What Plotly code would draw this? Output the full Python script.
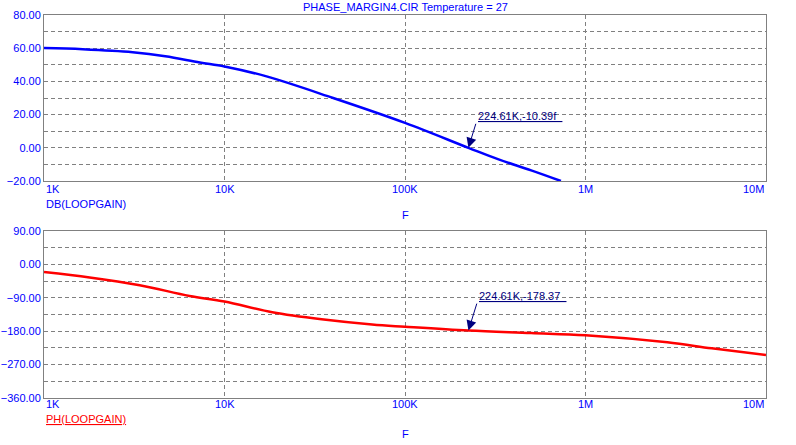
import math
import plotly.graph_objects as go

# loop gain
freq_db = [1e3, 1.64e3, 3.1e3, 4.7e3, 7.3e3, 1e4, 1.71e4, 4e4, 1e5, 2.2461e5, 3.3e5, 5e5, 7.31e5]
db_loopgain = [60.1, 59.4, 57.6, 55.2, 51.4, 49.0, 43.0, 30.0, 15.0, 0.0, -7.0, -13.6, -20.0]

freq_ph = [1e3, 1.79e3, 3.39e3, 6.4e3, 1e4, 1.84e4, 3.45e4, 6.57e4, 1e5, 2.2461e5, 5e5, 1e6, 2.84e6, 5e6, 1e7]
ph_loopgain = [-20.5, -35, -56, -85, -100, -129, -148, -162, -168, -178.37, -185, -191, -210, -226, -244]

# cursor readouts
cursor_f = 2.2461e5
cursor_db = 0.0
cursor_ph = -178.37
cursor_db_text = "224.61K,-10.39f"
cursor_ph_text = "224.61K,-178.37"

x_tickvals = [1e3, 1e4, 1e5, 1e6, 1e7]
x_ticktext = ["1K", "10K", "100K", "1M", "10M"]

BLUE = "#0000FF"
RED = "#FF0000"
NAVY = "#000080"
GRAY = "#808080"
FONT = "Liberation Sans, Arial, sans-serif"
DASH = "4px,3px"

fig = go.Figure()
fig.add_trace(go.Scatter(x=freq_db, y=db_loopgain, mode="lines",
                         line=dict(color=BLUE, width=2.5, shape="spline"),
                         xaxis="x", yaxis="y"))
fig.add_trace(go.Scatter(x=freq_ph, y=ph_loopgain, mode="lines",
                         line=dict(color=RED, width=2.5, shape="spline"),
                         xaxis="x2", yaxis="y2"))

xcommon = dict(type="log", range=[3, 7], tickvals=x_tickvals, showticklabels=False,
               showgrid=True, gridcolor=GRAY, griddash=DASH, gridwidth=1,
               showline=True, linecolor=GRAY, linewidth=1, mirror=True,
               zeroline=False, ticks="", automargin=False)
ycommon = dict(showgrid=True, gridcolor=GRAY, griddash=DASH, gridwidth=1,
               showline=True, linecolor=GRAY, linewidth=1, mirror=True,
               zeroline=False, ticks="", tickformat=".2f", automargin=False,
               tickfont=dict(color=BLUE, size=11, family=FONT))

fig.update_layout(
    width=796, height=445,
    margin=dict(l=44, r=30, t=15, b=47, autoexpand=False),
    paper_bgcolor="white", plot_bgcolor="white",
    showlegend=False, hovermode=False,
    font=dict(family=FONT, size=11, color=BLUE),
    xaxis=dict(domain=[0, 1], anchor="y", **xcommon),
    xaxis2=dict(domain=[0, 1], anchor="y2", **xcommon),
    yaxis=dict(domain=[0.5666, 1], anchor="x", range=[-20, 80], tick0=0, dtick=20,
               minor=dict(dtick=10, showgrid=True, gridcolor=GRAY, griddash=DASH),
               **ycommon),
    yaxis2=dict(domain=[0, 0.436], anchor="x2", range=[-360, 90], tick0=0, dtick=90,
                minor=dict(dtick=45, showgrid=True, gridcolor=GRAY, griddash=DASH),
                **ycommon),
)

ann = []
# title
ann.append(dict(text="PHASE_MARGIN4.CIR Temperature = 27", xref="paper", yref="paper",
                x=0.5, y=1, yshift=8, xanchor="center", yanchor="middle",
                showarrow=False, font=dict(color=BLUE, size=11)))
# x tick labels for both plots
for xr, ypos in (("x", 0.5457), ("x2", -0.0157)):
    for i, (v, t) in enumerate(zip(x_tickvals, x_ticktext)):
        anchor = "left" if i == 0 else ("right" if i == len(x_tickvals) - 1 else "center")
        ann.append(dict(text=t, xref=xr, yref="paper", x=math.log10(v), y=ypos,
                        xanchor=anchor, yanchor="middle", showarrow=False,
                        font=dict(color=BLUE, size=11)))
# trace names and axis titles
ann.append(dict(text="DB(LOOPGAIN)", xref="paper", yref="paper", x=0, y=0.5065,
                xanchor="left", yanchor="middle", showarrow=False, font=dict(color=BLUE, size=11)))
ann.append(dict(text="F", xref="paper", yref="paper", x=0.5, y=0.478,
                xanchor="center", yanchor="middle", showarrow=False, font=dict(color=BLUE, size=11)))
ann.append(dict(text="<u>PH(LOOPGAIN)</u>", xref="paper", yref="paper", x=0, y=-0.0548,
                xanchor="left", yanchor="middle", showarrow=False, font=dict(color=RED, size=11)))
ann.append(dict(text="F", xref="paper", yref="paper", x=0.5, y=-0.094,
                xanchor="center", yanchor="middle", showarrow=False, font=dict(color=BLUE, size=11)))

# cursor labels with arrows
for xr, yr, yv, txt, ax, ay in (("x", "y", cursor_db, cursor_db_text, 8, -26),
                                ("x2", "y2", cursor_ph, cursor_ph_text, 9, -29)):
    ann.append(dict(text=" ", xref=xr, yref=yr, x=math.log10(cursor_f), y=yv,
                    showarrow=True, ax=ax, ay=ay, arrowhead=2, arrowsize=2,
                    arrowwidth=1, arrowcolor=NAVY, font=dict(size=1)))
    ann.append(dict(text="<u>" + txt + "  </u>", xref=xr, yref=yr, x=math.log10(cursor_f), y=yv,
                    xshift=ax, yshift=-ay - 2, xanchor="left", yanchor="bottom",
                    showarrow=False, font=dict(color=NAVY, size=11)))

fig.update_layout(annotations=ann)

# drop the page's default body margin so the figure sits at the window's corner
fig.write_html("out.html", config={"displayModeBar": False},
               post_script="document.body.style.margin='0';")
